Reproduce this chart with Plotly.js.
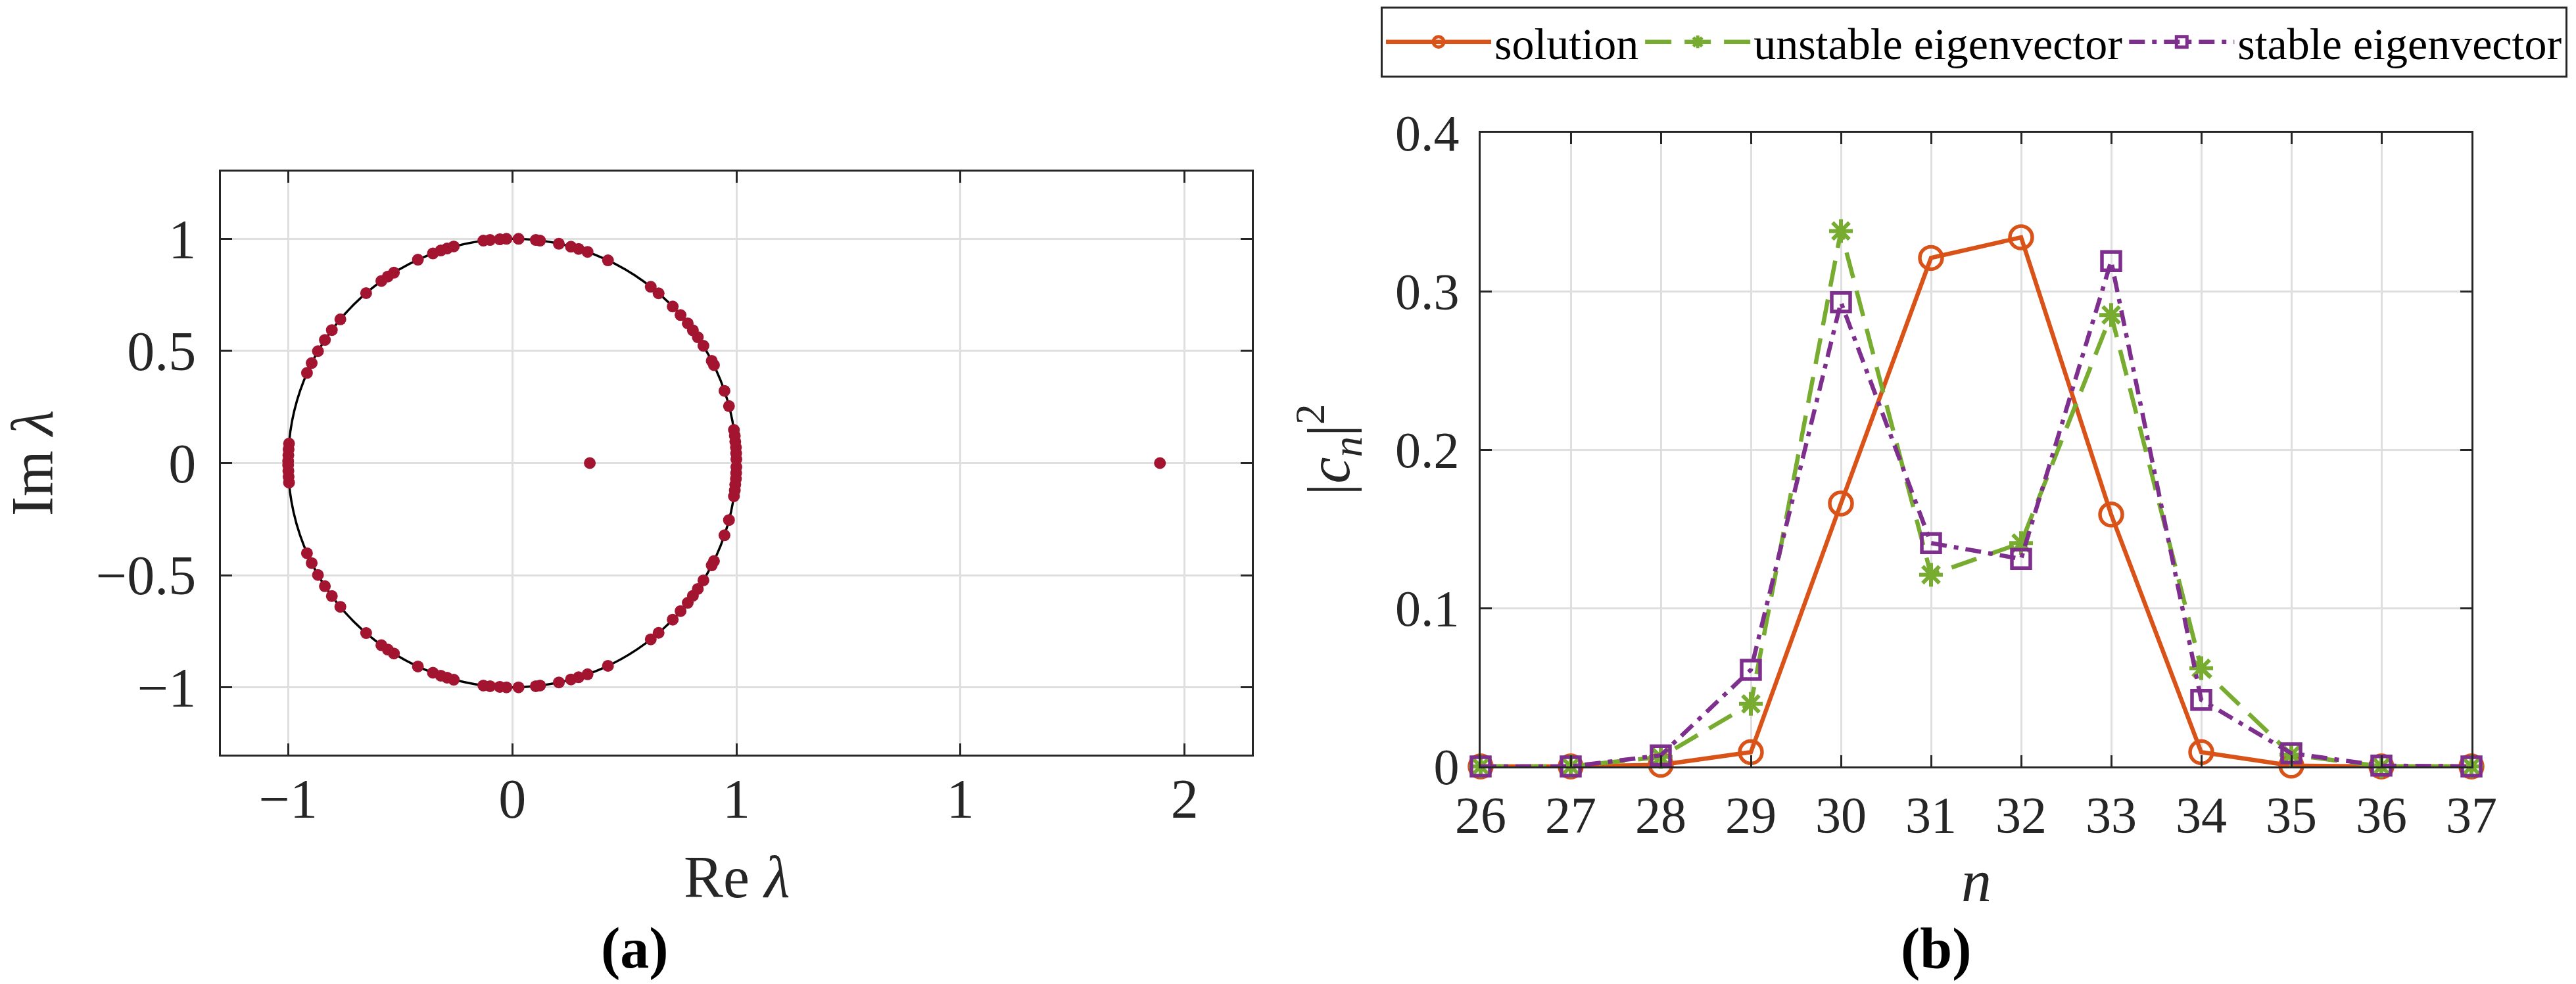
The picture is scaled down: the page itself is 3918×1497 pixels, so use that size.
<!DOCTYPE html>
<html>
<head>
<meta charset="utf-8">
<script src="https://cdn.plot.ly/plotly-3.0.1.min.js"></script>
<style>html,body{margin:0;padding:0;background:#fff;}#chart{width:3918px;height:1497px;}</style>
</head>
<body>
<div id="chart"></div>
<script>
// ---- Panel (a): eigenvalues (upper half-plane; lower half are conjugates) ----
const eigReUpper = [1.000, 0.999, 0.998, 0.995, 0.993, 0.989, 0.967, 0.947, 0.900, 0.890,
  0.853, 0.828, 0.806, 0.783, 0.751, 0.716, 0.653, 0.618, 0.427, 0.336, 0.296, 0.262,
  0.208, 0.124, 0.105, 0.028, -0.026, -0.056, -0.099, -0.129, -0.261, -0.291, -0.319,
  -0.354, -0.421, -0.528, -0.555, -0.584, -0.652, -0.767, -0.805, -0.836, -0.867,
  -0.895, -0.916, -0.996, -0.998, -0.999, -1.000];
const eigImUpper = [0.017, 0.044, 0.070, 0.096, 0.122, 0.148, 0.254, 0.322, 0.437, 0.456,
  0.523, 0.561, 0.592, 0.623, 0.660, 0.698, 0.757, 0.786, 0.904, 0.942, 0.955, 0.965,
  0.978, 0.992, 0.995, 1.000, 1.000, 0.998, 0.995, 0.992, 0.966, 0.957, 0.948,
  0.935, 0.907, 0.849, 0.832, 0.812, 0.758, 0.641, 0.593, 0.549, 0.499,
  0.446, 0.402, 0.087, 0.061, 0.035, 0.009];
const eigRealRe = [0.346, 2.89];
const eigRealIm = [0, 0];

const xTickVals = [-1, 0, 1, 2, 3];
const xTickText = ['\u22121', '0', '1', '1', '2'];
const yTickVals = [-1, -0.5, 0, 0.5, 1];
const yTickText = ['\u22121', '\u22120.5', '0', '0.5', '1'];

// ---- Panel (b): |c_n|^2 ----
const nValues = [26, 27, 28, 29, 30, 31, 32, 33, 34, 35, 36, 37];
const solution = [0, 0, 0.001, 0.009, 0.166, 0.321, 0.334, 0.159, 0.009, 0.0005, 0, 0];
const unstableEig = [0, 0, 0.006, 0.0395, 0.338, 0.121, 0.141, 0.285, 0.062, 0.0075, 0, 0];
const stableEig = [0, 0, 0.007, 0.061, 0.293, 0.141, 0.131, 0.319, 0.042, 0.0083, 0.0005, 0];

const eigRe = eigReUpper.concat(eigReUpper, eigRealRe);
const eigIm = eigImUpper.concat(eigImUpper.map(v => -v), eigRealIm);

const axisColor = '#262626';
const gridColor = '#DFDFDF';
const FONT = 'Liberation Serif, DejaVu Serif, serif';

const traces = [
  {x: eigRe, y: eigIm, xaxis: 'x', yaxis: 'y', type: 'scatter', mode: 'markers',
   marker: {color: '#A2142F', size: 18}, showlegend: false, hoverinfo: 'skip'},
  {x: nValues, y: solution, xaxis: 'x2', yaxis: 'y2', type: 'scatter', mode: 'lines+markers',
   name: 'solution', cliponaxis: false,
   line: {color: '#D95319', width: 6.5},
   marker: {symbol: 'circle-open', size: 34, color: '#D95319', line: {width: 5.5, color: '#D95319'}}},
  {x: nValues, y: unstableEig, xaxis: 'x2', yaxis: 'y2', type: 'scatter', mode: 'lines+markers',
   name: 'unstable eigenvector', cliponaxis: false,
   line: {color: '#77AC30', width: 6.5, dash: '40px,20px'},
   marker: {symbol: 'asterisk-open', size: 30, color: '#77AC30', line: {width: 6, color: '#77AC30'}}},
  {x: nValues, y: stableEig, xaxis: 'x2', yaxis: 'y2', type: 'scatter', mode: 'lines+markers',
   name: 'stable eigenvector', cliponaxis: false,
   line: {color: '#7E2F8E', width: 6.5, dash: '24px,11px,7px,11px'},
   marker: {symbol: 'square-open', size: 28, color: '#7E2F8E', line: {width: 5.5, color: '#7E2F8E'}}}
];

function axisBase() {
  return {
    showline: true, linewidth: 3, linecolor: axisColor, mirror: 'allticks',
    ticks: 'inside', ticklen: 17, tickwidth: 3, tickcolor: axisColor,
    showgrid: true, gridcolor: gridColor, gridwidth: 3, zeroline: false,
    fixedrange: true
  };
}

const layout = {
  width: 3918, height: 1497,
  margin: {l: 0, r: 0, t: 0, b: 0},
  paper_bgcolor: '#ffffff', plot_bgcolor: '#ffffff',
  font: {family: FONT, color: axisColor, size: 80},
  xaxis: Object.assign(axisBase(), {
    domain: [336 / 3918, 1904 / 3918], anchor: 'y', range: [-1.3, 3.3],
    tickmode: 'array', tickvals: xTickVals, ticktext: xTickText,
    tickfont: {size: 84, family: FONT, color: axisColor}, ticklabelstandoff: -8
  }),
  yaxis: Object.assign(axisBase(), {
    domain: [(1497 - 1148) / 1497, (1497 - 261) / 1497], anchor: 'x', range: [-1.3, 1.3],
    tickmode: 'array', tickvals: yTickVals, ticktext: yTickText,
    tickfont: {size: 84, family: FONT, color: axisColor}, ticklabelstandoff: 18,
    title: {text: 'Im <i>λ</i>', font: {size: 90, family: FONT, color: axisColor}, standoff: 40}
  }),
  xaxis2: Object.assign(axisBase(), {
    domain: [2252 / 3918, 3759 / 3918], anchor: 'y2', range: [26, 37],
    tickmode: 'linear', tick0: 26, dtick: 1,
    tickfont: {size: 78, family: FONT, color: axisColor}, ticklabelstandoff: 3
  }),
  yaxis2: Object.assign(axisBase(), {
    domain: [(1497 - 1166) / 1497, (1497 - 202) / 1497], anchor: 'x2', range: [0, 0.4],
    tickmode: 'linear', tick0: 0, dtick: 0.1,
    tickfont: {size: 78, family: FONT, color: axisColor}, ticklabelstandoff: 14,
    title: {text: '|<i>c</i><sub><i>n</i></sub>|<sup>2</sup>', font: {size: 90, family: FONT, color: axisColor}, standoff: 40}
  }),
  shapes: [
    {type: 'circle', xref: 'x', yref: 'y', x0: -1, x1: 1, y0: -1, y1: 1,
     line: {color: '#000000', width: 3.5}, layer: 'between'}
  ],
  legend: {
    orientation: 'h', x: 3905 / 3918, xanchor: 'right', y: (1497 - 10) / 1497, yanchor: 'top',
    bgcolor: '#ffffff', bordercolor: axisColor, borderwidth: 3,
    font: {size: 68, family: FONT, color: '#000000'}, itemwidth: 160, tracegroupgap: 0
  },
  annotations: [
    {text: 'Re <i>λ</i>', xref: 'x', yref: 'paper', x: 1, y: (1497 - 1334) / 1497,
     xanchor: 'center', yanchor: 'middle', showarrow: false, font: {size: 90, family: FONT, color: axisColor}},
    {text: '<i>n</i>', xref: 'x2', yref: 'paper', x: 31.5, y: (1497 - 1340) / 1497,
     xanchor: 'center', yanchor: 'middle', showarrow: false, font: {size: 92, family: FONT, color: axisColor}},
    {text: '<b>(a)</b>', xref: 'paper', yref: 'paper', x: 965 / 3918, y: (1497 - 1442) / 1497,
     xanchor: 'center', yanchor: 'middle', showarrow: false, font: {size: 88, family: FONT, color: '#000000'}},
    {text: '<b>(b)</b>', xref: 'paper', yref: 'paper', x: 2945 / 3918, y: (1497 - 1443) / 1497,
     xanchor: 'center', yanchor: 'middle', showarrow: false, font: {size: 88, family: FONT, color: '#000000'}}
  ]
};

Plotly.newPlot('chart', traces, layout, {staticPlot: true, displayModeBar: false});
</script>
</body>
</html>
